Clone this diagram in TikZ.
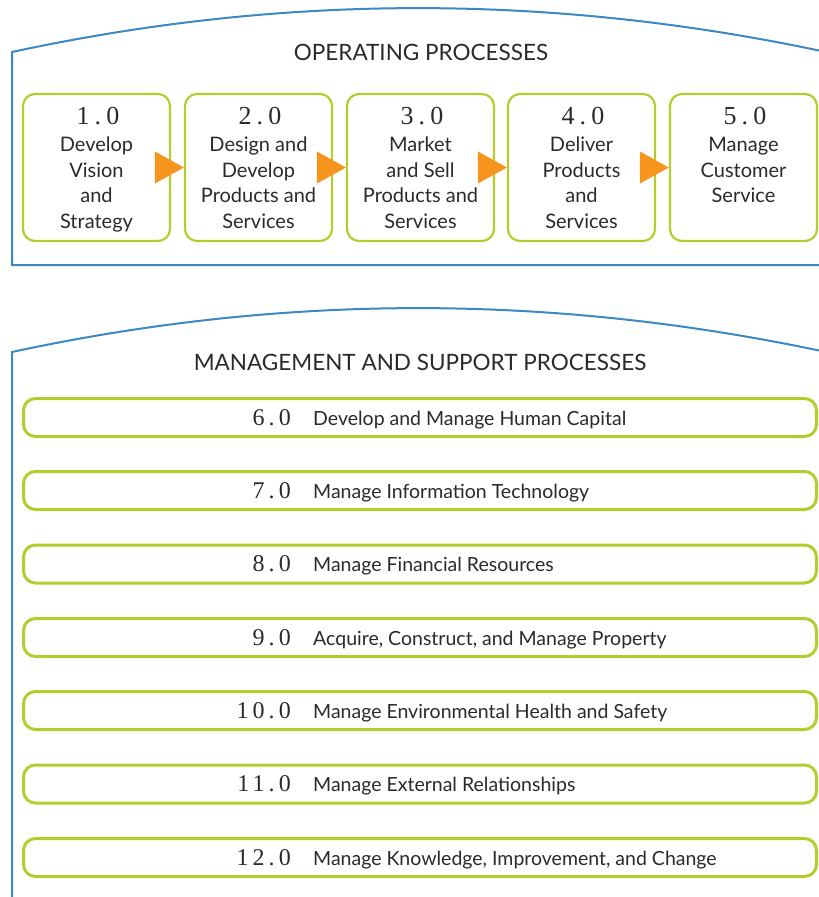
\documentclass[tikz,border=0pt]{standalone}
\usepackage{fontspec}
\newfontfamily\lato{Lato}
\newfontfamily\numfont[LetterSpace=20]{Liberation Serif}
\newfontfamily\supnumfont[LetterSpace=17]{Liberation Serif}
\usetikzlibrary{calc}
\definecolor{procblue}{HTML}{3C88C2}
\definecolor{procgreen}{HTML}{B6CC2E}
\definecolor{procorange}{HTML}{F7941D}
\definecolor{proctext}{HTML}{2A2A2A}
\begin{document}
\begin{tikzpicture}[x=1pt,y=-1pt,
  container/.style={draw=procblue, line width=2pt},
  title/.style={font=\lato\fontsize{22.5}{26}\selectfont, text=proctext, inner sep=0pt},
  opbox/.style={draw=procgreen, line width=2.2pt, rounded corners=12pt, minimum width=147pt, minimum height=147pt, inner sep=0pt},
  supbox/.style={draw=procgreen, line width=3pt, rounded corners=12pt, minimum width=793pt, minimum height=38pt, inner sep=0pt},
  opnum/.style={font=\numfont\fontsize{26}{30}\selectfont, text=proctext, inner sep=0pt, anchor=base},
  optext/.style={font=\lato\fontsize{20}{25.7}\selectfont, text=proctext, inner sep=0pt, align=center, anchor=base},
  supnum/.style={font=\supnumfont\fontsize{24}{28}\selectfont, text=proctext, inner sep=0pt, anchor=base east},
  suptext/.style={font=\lato\fontsize{19.5}{22}\selectfont, text=proctext, inner sep=0pt, anchor=base west},
  arrowtri/.style={fill=procorange}
]
\useasboundingbox (0,0) rectangle (819,897);
% containers
\draw[container] (826,265) -- (12,265) -- (12,52) .. controls (281,-6) and (550,-7) .. (826,52);
\draw[container] (12,900) -- (12,352) .. controls (281,294) and (550,293) .. (826,352);
% titles
\node[title] (optitle) at (421,52) {OPERATING PROCESSES};
\node[title] (suptitle) at (420,362) {MANAGEMENT AND SUPPORT PROCESSES};
% operating boxes
\foreach \i/\x in {1/96.5,2/258.5,3/420.5,4/581.5,5/743.5}{
  \node[opbox] (b\i) at (\x,167.5) {};
}
\node[opnum] (n1) at ($(b1.north)+(1.5,32)$) {1.0};
\node[opnum] (n2) at ($(b2.north)+(1.5,32)$) {2.0};
\node[opnum] (n3) at ($(b3.north)+(1.5,32)$) {3.0};
\node[opnum] (n4) at ($(b4.north)+(1.5,32)$) {4.0};
\node[opnum] (n5) at ($(b5.north)+(1.5,32)$) {5.0};
\node[optext] (t1) at ($(b1.north)+(0,135.5)$) {Develop\\Vision\\and\\Strategy};
\node[optext] (t2) at ($(b2.north)+(0,135.5)$) {Design and\\Develop\\Products and\\Services};
\node[optext] (t3) at ($(b3.north)+(0,135.5)$) {Market\\and Sell\\Products and\\Services};
\node[optext] (t4) at ($(b4.north)+(0,135.5)$) {Deliver\\Products\\and\\Services};
\node[optext] (t5) at ($(b5.north)+(0,109.8)$) {Manage\\Customer\\Service};
% arrows
\foreach \j in {2,3,4,5}{
  \fill[arrowtri] ($(b\j.west)+(-29,-16)$) -- (b\j.west) -- ($(b\j.west)+(-29,16)$) -- cycle;
}
% support boxes
\foreach \k/\y/\num/\txt in {
  6/417.5/6.0/Develop and Manage Human Capital,
  7/490.5/7.0/Manage Information Technology,
  8/564/8.0/Manage Financial Resources,
  9/637.5/9.0/{Acquire, Construct, and Manage Property},
  10/710.5/10.0/Manage Environmental Health and Safety,
  11/784/11.0/Manage External Relationships,
  12/857.5/12.0/{Manage Knowledge, Improvement, and Change}}{
  \node[supbox] (s\k) at (420,\y) {};
  \node[supnum] (sn\k) at (291,\y+7.5) {\num};
  \node[suptext] (st\k) at (313,\y+7.5) {\txt};
}
\end{tikzpicture}
\end{document}
